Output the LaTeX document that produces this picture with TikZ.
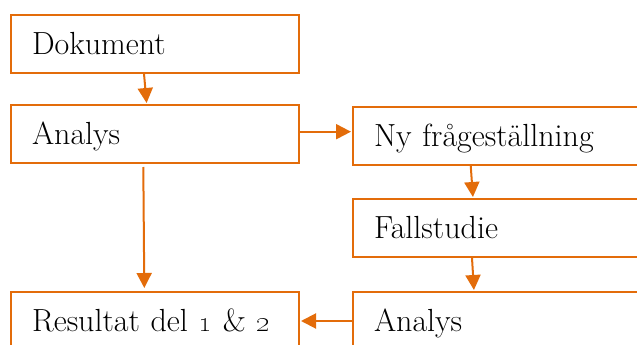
\documentclass[tikz,border=0pt]{standalone}
\usepackage{xcolor}
\usepackage{tikz}
\usetikzlibrary{arrows.meta, positioning}

\definecolor{stegorange}{HTML}{E36C0A}

\begin{document}
\begin{tikzpicture}[x=1pt,y=-1pt,shorten >=1pt]
			\tikzstyle{every stegbox}=[draw=stegorange, line width=2pt, rectangle,
				text width=246pt, inner xsep=21pt, minimum height=58pt, align=left,
				text height=22.4pt, text depth=1pt,
				font=\fontsize{32}{38}\selectfont]
			\tikzstyle{stegpil}=[color=stegorange, line width=2pt,
				-{Triangle[length=15pt,width=15pt]}]
			
			\useasboundingbox (0,0) rectangle (637,345);
			
			\node[every stegbox] (dok) at (155,43.9) {Dokument};
			\node[every stegbox] (ana_1) at (155,134) {Analys};
			\node[every stegbox] (ny) at (497,135.5) {Ny frågeställning};
			\node[every stegbox] (fall) at (497,228) {Fallstudie};
			\node[every stegbox] (res) at (155,321) {Resultat del \oldstylenums{1} \& \oldstylenums{2}};
			\node[every stegbox] (ana_2) at (497,321) {Analys};
			
			\draw[stegpil] ([xshift=-11pt]dok.south) -- ([xshift=-8.3pt]ana_1.north);
			\draw[stegpil] ([yshift=2.3pt]ana_1.east) -- ([yshift=2.3pt]ana_1.east -| ny.west);
			\draw[stegpil] ([xshift=-26.3pt]ny.south) -- ([xshift=-24pt]fall.north);
			\draw[stegpil] ([xshift=-25pt]fall.south) -- ([xshift=-23pt]ana_2.north);
			\draw[stegpil] ([xshift=-11.7pt,yshift=-3pt]ana_1.south) -- ([xshift=-10.7pt,yshift=2pt]res.north);
			\draw[stegpil] (ana_2.west) -- (res.east);
		\end{tikzpicture}
\end{document}
